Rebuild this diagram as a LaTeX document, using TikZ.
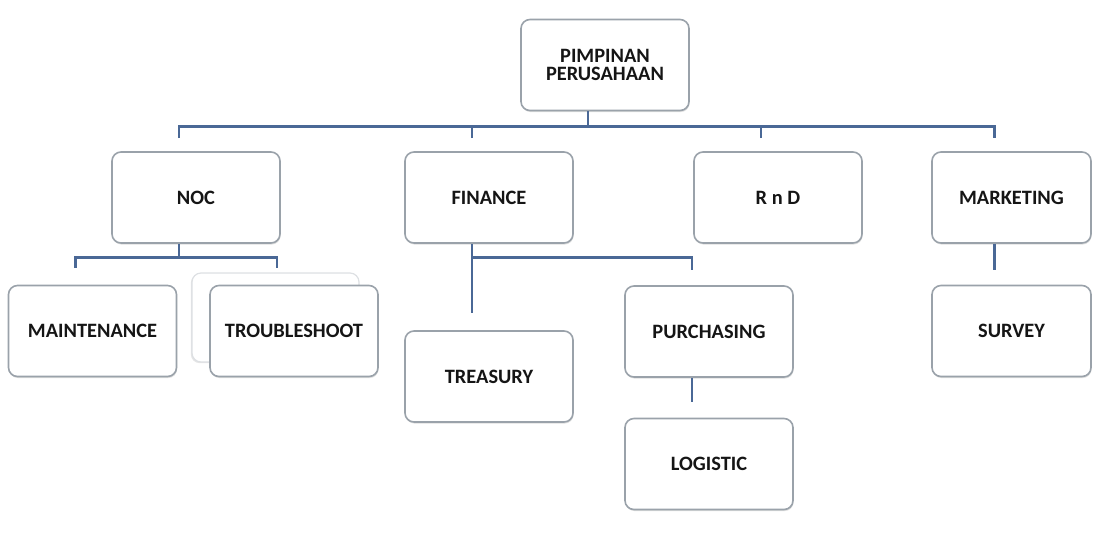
\documentclass[tikz,border=0pt]{standalone}
\usepackage{fontspec}
\setmainfont{Carlito}
\usetikzlibrary{shadows}
\definecolor{orgink}{HTML}{151515}
\definecolor{orgframe}{HTML}{9AA2AA}
\definecolor{orglink}{HTML}{4A6896}
\definecolor{orgghost}{HTML}{DDE0E3}
\newcommand{\linkoff}{-8.5pt}

\begin{document}
\begin{tikzpicture}[
  x=0.5pt,
  y=-0.5pt,
  every node/.style={font=\fontsize{10.2}{9.2}\selectfont\bfseries, orgink},
  unit/.style={draw=orgframe, fill=white, line width=0.8pt, rounded corners=4.5pt,
               minimum width=84pt, minimum height=45.5pt, inner sep=0pt, align=center,
               drop shadow={shadow xshift=0.3pt, shadow yshift=-0.8pt,
                            opacity=0.25, fill=black!50}},
  ghost/.style={draw=orgghost, fill=white, line width=0.6pt, rounded corners=4.5pt,
                minimum width=83.5pt, minimum height=44.5pt, inner sep=0pt,
                drop shadow={shadow xshift=-0.6pt, shadow yshift=-0.6pt,
                             opacity=0.2, fill=black!50}},
  link/.style={orglink, line width=1.4pt}
]
  % ---- page: same size as the scan ------------------------------------
  \useasboundingbox (0,0) rectangle (1094,532);

  % ---- head --------------------------------------------------------------
  \node[unit] (pimpinan) at (605,65) {PIMPINAN\\PERUSAHAAN};

  % ---- divisions ---------------------------------------------------------
  \node[unit] (noc) at (196,197.5) {NOC};
  \node[unit] (finance) at (489,197.5) {FINANCE};
  \node[unit] (rnd) at (778,197.5) {R n D};
  \node[unit, minimum width=79.5pt] (marketing) at (1011.5,197.5) {MARKETING};

  % ---- sections ----------------------------------------------------------
  \node[unit] (maintenance) at (92.5,331) {MAINTENANCE};
  \node[ghost] (troublecopy) at (275.5,317.5) {};
  \node[unit] (troubleshoot) at (294,331) {TROUBLESHOOT};
  \node[unit] (treasury) at (489,376.5) {TREASURY};
  \node[unit] (purchasing) at (709,331.5) {PURCHASING};
  \node[unit] (logistic) at (709,464) {LOGISTIC};
  \node[unit, minimum width=79.5pt] (survey) at (1011.5,331) {SURVEY};

  % ---- head to divisions -------------------------------------------------
  % every line sits a little left of the middle of its box
  \coordinate (pimpinan-out) at ([xshift=\linkoff]pimpinan.south);
  \coordinate (topbus) at ([yshift=-7.5pt]pimpinan.south);
  \coordinate (noc-in) at ([xshift=\linkoff, yshift=6.5pt]noc.north);
  \coordinate (finance-in) at ([xshift=\linkoff, yshift=6.5pt]finance.north);
  \coordinate (rnd-in) at ([xshift=\linkoff, yshift=6.5pt]rnd.north);
  \coordinate (marketing-in) at ([xshift=\linkoff, yshift=6.5pt]marketing.north);
  \draw[link] (pimpinan-out) -- (pimpinan-out |- topbus);
  \draw[link] (noc-in) -- (noc-in |- topbus) -- (marketing-in |- topbus)
    -- (marketing-in);
  \draw[link] (finance-in) -- (finance-in |- topbus);
  \draw[link] (rnd-in) -- (rnd-in |- topbus);

  % ---- NOC ---------------------------------------------------------------
  \coordinate (noc-out) at ([xshift=\linkoff]noc.south);
  \coordinate (nocbus) at ([yshift=-7pt]noc.south);
  \coordinate (maintenance-in) at ([xshift=\linkoff, yshift=8.5pt]maintenance.north);
  \coordinate (troubleshoot-in) at ([xshift=\linkoff, yshift=8.5pt]troubleshoot.north);
  \draw[link] (noc-out) -- (noc-out |- nocbus);
  \draw[link] (maintenance-in) -- (maintenance-in |- nocbus)
    -- (troubleshoot-in |- nocbus) -- (troubleshoot-in);

  % ---- FINANCE -----------------------------------------------------------
  \coordinate (finance-out) at ([xshift=\linkoff]finance.south);
  \coordinate (financebus) at ([yshift=-7pt]finance.south);
  \coordinate (treasury-in) at ([xshift=\linkoff, yshift=8.5pt]treasury.north);
  \coordinate (purchasing-in) at ([xshift=\linkoff, yshift=7.5pt]purchasing.north);
  \draw[link] (finance-out) -- (treasury-in);
  \draw[link] (finance-out |- financebus) -| (purchasing-in);

  % ---- PURCHASING --------------------------------------------------------
  \coordinate (purchasing-out) at ([xshift=\linkoff]purchasing.south);
  \coordinate (logistic-in) at ([xshift=\linkoff, yshift=8pt]logistic.north);
  \draw[link] (purchasing-out) -- (logistic-in);

  % ---- MARKETING ---------------------------------------------------------
  \coordinate (marketing-out) at ([xshift=\linkoff]marketing.south);
  \coordinate (survey-in) at ([xshift=\linkoff, yshift=7.5pt]survey.north);
  \draw[link] (marketing-out) -- (survey-in);

\end{tikzpicture}
\end{document}
